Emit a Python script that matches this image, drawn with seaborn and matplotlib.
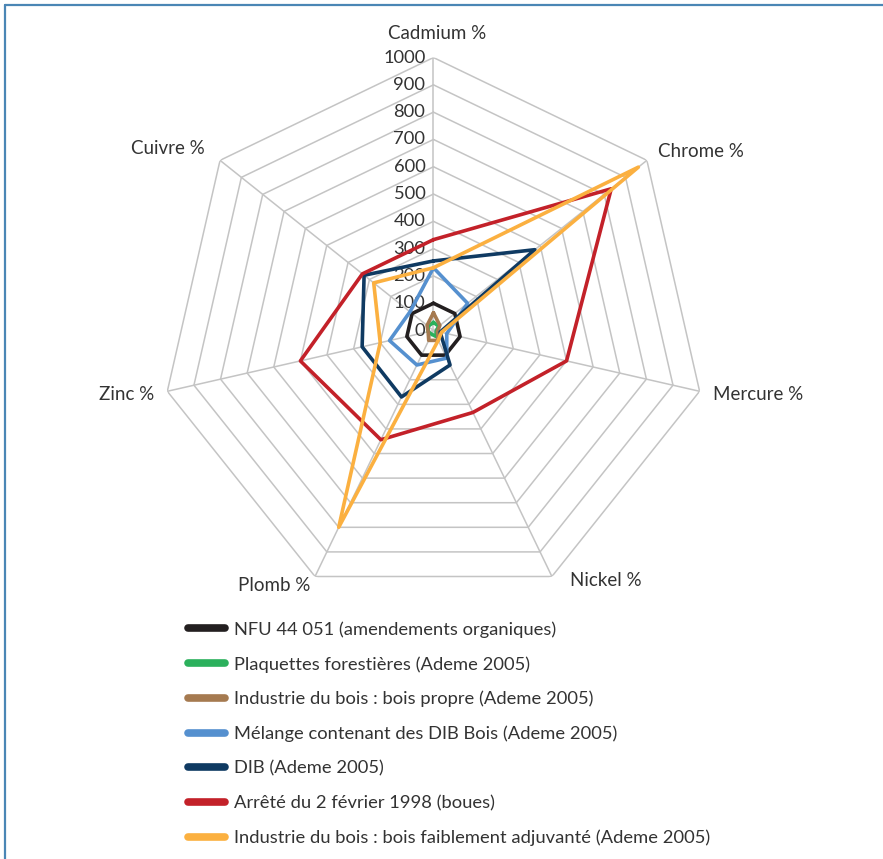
import numpy as np
import pandas as pd
import matplotlib
matplotlib.use("Agg")
import matplotlib.pyplot as plt
import matplotlib.transforms as mtrans
from matplotlib.lines import Line2D
import seaborn as sns

# ---------------- data ----------------
categories = ["Cadmium %", "Chrome %", "Mercure %", "Nickel %", "Plomb %", "Zinc %", "Cuivre %"]
series_names = [
    "NFU 44 051 (amendements organiques)",
    "Plaquettes forestières (Ademe 2005)",
    "Industrie du bois : bois propre (Ademe 2005)",
    "Mélange contenant des DIB Bois (Ademe 2005)",
    "DIB (Ademe 2005)",
    "Arrêté du 2 février 1998 (boues)",
    "Industrie du bois : bois faiblement adjuvanté (Ademe 2005)",
]
nfu = [100, 100, 100, 100, 100, 100, 100]
plaquettes = [30, 25, 10, 25, 15, 20, 25]
bois_propre = [65, 30, 15, 40, 40, 20, 30]
melange = [230, 160, 50, 112, 140, 165, 110]
dib = [255, 475, 25, 140, 270, 268, 325]
arrete = [333, 833, 500, 333, 444, 500, 333]
faible = [230, 960, 30, 40, 800, 200, 280]
tick_values = [0, 100, 200, 300, 400, 500, 600, 700, 800, 900, 1000]

colors = ["#231f20", "#2bb05c", "#a57a50", "#5590cf", "#0f3a62", "#c32129", "#fbb040"]
all_values = [nfu, plaquettes, bois_propre, melange, dib, arrete, faible]

# ---------------- long table ----------------
n = len(categories)
theta = np.arange(n) * 2 * np.pi / n
theta_closed = np.append(theta, 2 * np.pi)
rows = []
for name, vals in zip(series_names, all_values):
    vc = list(vals) + [vals[0]]
    for t, v in zip(theta_closed, vc):
        rows.append({"series": name, "theta": t, "r": v})
df = pd.DataFrame(rows)

# ---------------- figure ----------------
sns.set_theme(style="white")
plt.rcParams["font.family"] = ["Lato", "DejaVu Sans"]
text_color = "#333333"
fs = 13.2

fig = plt.figure(figsize=(8.83, 8.59), dpi=100)
fig.patch.set_facecolor("white")
ax = fig.add_axes([0.1817, 0.2974, 0.6184, 0.6356], projection="polar")
ax.set_theta_zero_location("N")
ax.set_theta_direction(-1)
ax.set_ylim(0, 1000)
ax.grid(False)
ax.spines["polar"].set_visible(False)
ax.set_xticks([])
ax.set_yticks([])
ax.set_facecolor("none")

grid_c = "#c4c4c4"
for lvl in tick_values[1:]:
    ax.plot(theta_closed, [lvl] * len(theta_closed), color=grid_c, lw=1.1, zorder=1)
for t in theta:
    ax.plot([t, t], [0, 1000], color=grid_c, lw=1.1, zorder=1)

palette = dict(zip(series_names, colors))
sns.lineplot(data=df, x="theta", y="r", hue="series", hue_order=series_names,
             palette=palette, sort=False, estimator=None, linewidth=2.6,
             legend=False, ax=ax, zorder=3)
ax.set_xlabel("")
ax.set_ylabel("")

# radial tick labels
off = mtrans.offset_copy(ax.transData, fig=fig, x=-8, y=0, units="dots")
for v in tick_values:
    ax.text(0, v, str(v), transform=off, ha="right", va="center",
            fontsize=fs, color=text_color, zorder=2)

# category labels
lab_r = [1100, 1050, 1050, 1040, 1035, 1050, 1070]
lab_ha = ["center", "left", "left", "left", "right", "right", "right"]
lab_dx = [4, 0, 0, 13, 0, 0, 0]
lab_dy = [-3, 0, 0, 6, 0, 0, 0]
for t, lab, r, ha, dx, dy in zip(theta, categories, lab_r, lab_ha, lab_dx, lab_dy):
    tr = mtrans.offset_copy(ax.transData, fig=fig, x=dx, y=dy, units="dots")
    ax.text(t, r, lab, ha=ha, va="center", fontsize=fs + 0.3, color=text_color,
            transform=tr)

# legend
handles = [Line2D([0], [0], color=c, lw=5.5, solid_capstyle="round") for c in colors]
fig.legend(handles, series_names, loc="upper left", bbox_to_anchor=(0.213, 0.277),
           frameon=False, fontsize=fs, handlelength=2.0, handletextpad=0.5,
           labelspacing=1.0, borderpad=0, borderaxespad=0, labelcolor=text_color)

# frame lines (top and left)
fc = "#4a86b5"
fig.add_artist(Line2D([4.5 / 883, 1.0], [1 - 5 / 859, 1 - 5 / 859], color=fc, lw=1.6,
                      transform=fig.transFigure))
fig.add_artist(Line2D([4.5 / 883, 4.5 / 883], [0, 1 - 5 / 859], color=fc, lw=1.6,
                      transform=fig.transFigure))

fig.savefig("out.png", dpi=100, facecolor="white")
